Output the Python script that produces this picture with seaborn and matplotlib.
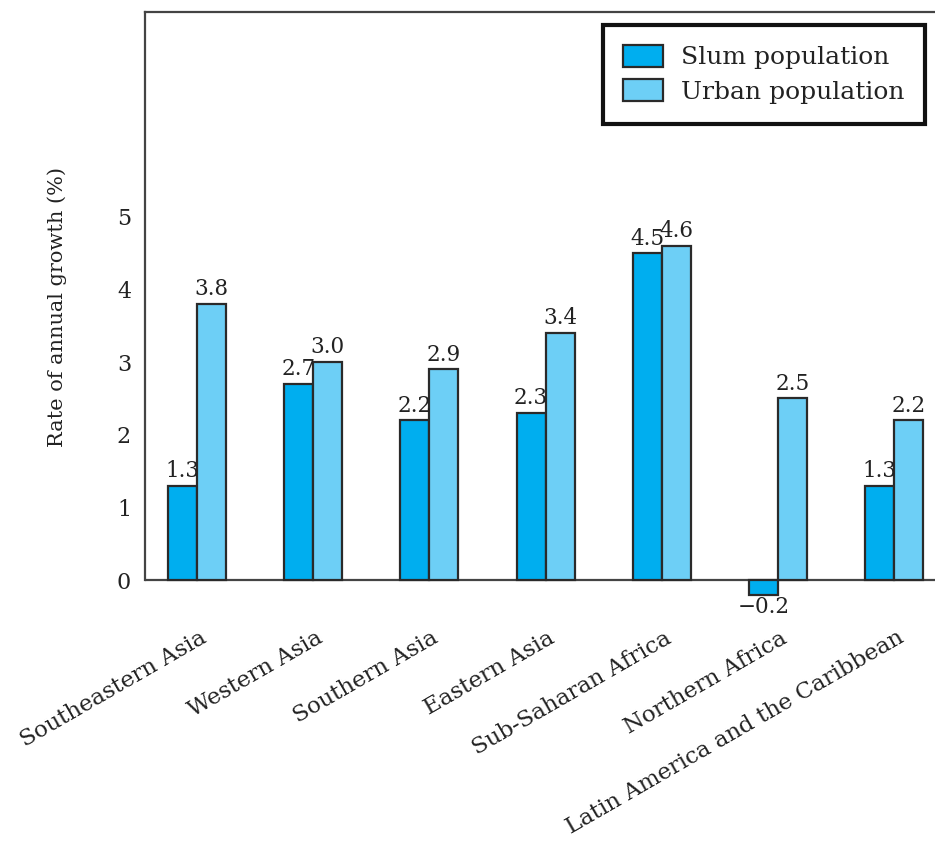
import matplotlib
matplotlib.use('Agg')
import matplotlib.pyplot as plt
import matplotlib.transforms as mtransforms
from matplotlib.patches import Patch
import pandas as pd
import seaborn as sns

# data
regions = ['Southeastern Asia', 'Western Asia', 'Southern Asia', 'Eastern Asia',
           'Sub-Saharan Africa', 'Northern Africa', 'Latin America and the Caribbean']
slum = [1.3, 2.7, 2.2, 2.3, 4.5, -0.2, 1.3]
urban = [3.8, 3.0, 2.9, 3.4, 4.6, 2.5, 2.2]
series = ['Slum population', 'Urban population']
colors = ['#00aeef', '#6dcff6']
yticks = [0, 1, 2, 3, 4, 5]

df = pd.DataFrame({
    'region': regions * 2,
    'rate': slum + urban,
    'series': [series[0]] * len(regions) + [series[1]] * len(regions),
})

sns.set_style('white')
plt.rcParams['font.family'] = ['DejaVu Serif', 'Liberation Serif']
txt = '#222222'
edge = '#2a2a2a'

fig = plt.figure(figsize=(9.35, 8.47), dpi=100)
ax = fig.add_axes([0.155, 0.2895, 0.845, 0.6963])

sns.barplot(data=df, x='region', y='rate', hue='series', order=regions,
            hue_order=series, palette=colors, width=0.5, gap=0,
            edgecolor=edge, linewidth=1.6, saturation=1, ax=ax, legend=False)

# value labels
for cont in ax.containers:
    for bar in cont:
        h = bar.get_height()
        xc = bar.get_x() + bar.get_width() / 2
        if h >= 0:
            ax.text(xc, h + 0.05, f'{h:.1f}', ha='center', va='bottom', fontsize=15.5, color=txt)
        else:
            ax.text(xc, h - 0.02, f'\u2212{abs(h):.1f}', ha='center', va='top', fontsize=15.5, color=txt)

ax.set_xlim(-0.447, 6.35)
ax.set_ylim(-0.3, 7.82)
ax.axhline(0, color='#444444', lw=1.6, zorder=0)

ax.spines['bottom'].set_visible(False)
ax.spines['right'].set_visible(False)
ax.spines['left'].set_bounds(0, 7.82)
for s in ['left', 'top']:
    ax.spines[s].set_color('#444444')
    ax.spines[s].set_linewidth(1.6)

ax.set_yticks(yticks)
ax.set_yticklabels([str(t) for t in yticks], fontsize=16, color=txt)
ax.tick_params(axis='y', length=0, pad=10)
ax.tick_params(axis='x', length=0, pad=18)
ax.set_xticks(range(len(regions)))
ax.set_xticklabels(regions, rotation=30, ha='right', rotation_mode='anchor',
                   fontsize=16.5, color=txt)
offset = mtransforms.ScaledTranslation(2 / 100, 0, fig.dpi_scale_trans)
for lab in ax.get_xticklabels():
    lab.set_transform(lab.get_transform() + offset)

ax.set_xlabel('')
ax.set_ylabel('Rate of annual growth (%)', fontsize=15, color=txt, labelpad=36)

handles = [Patch(facecolor=c, edgecolor=edge, linewidth=1.6) for c in colors]
leg = ax.legend(handles, series, loc='upper right', bbox_to_anchor=(0.987, 0.978),
                borderaxespad=0, fancybox=False, framealpha=1, fontsize=18, handlelength=1.6,
                handleheight=0.95, labelspacing=0.4, borderpad=0.8, handletextpad=0.72)
leg.get_frame().set_edgecolor('#111111')
leg.get_frame().set_linewidth(3)
for t in leg.get_texts():
    t.set_color(txt)

fig.savefig('out.png', dpi=100)
